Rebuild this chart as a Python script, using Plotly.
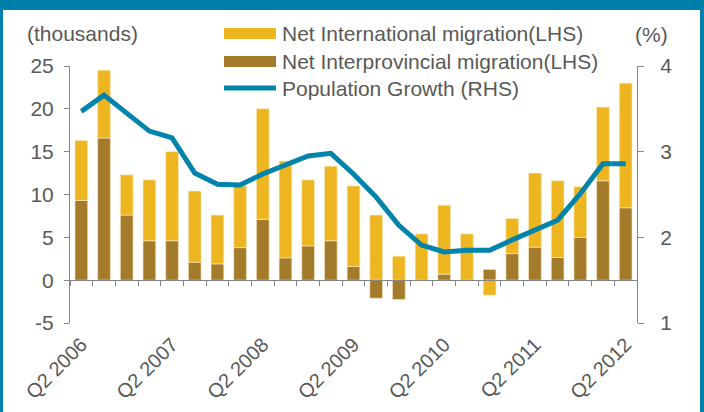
import plotly.graph_objects as go
import numpy as np

quarters = ["Q2 2006", "Q3 2006", "Q4 2006", "Q1 2007", "Q2 2007", "Q3 2007", "Q4 2007",
            "Q1 2008", "Q2 2008", "Q3 2008", "Q4 2008", "Q1 2009", "Q2 2009", "Q3 2009",
            "Q4 2009", "Q1 2010", "Q2 2010", "Q3 2010", "Q4 2010", "Q1 2011", "Q2 2011",
            "Q3 2011", "Q4 2011", "Q1 2012", "Q2 2012"]
interprovincial = [9.3, 16.6, 7.6, 4.6, 4.6, 2.1, 1.9, 3.8, 7.1, 2.6, 4.0, 4.6, 1.6, -2.1,
                   -2.25, 0.0, 0.7, 0.0, 1.25, 3.1, 3.85, 2.65, 5.0, 11.6, 8.45]
international = [7.0, 7.9, 4.7, 7.1, 10.4, 8.3, 5.7, 7.2, 12.9, 11.3, 7.7, 8.7, 9.4, 7.6,
                 2.8, 5.4, 8.05, 5.4, -1.75, 4.1, 8.65, 8.95, 5.9, 8.6, 14.55]
pop_growth = [3.47, 3.66, 3.45, 3.24, 3.16, 2.75, 2.62, 2.61, 2.74, 2.84, 2.95, 2.98, 2.74,
              2.47, 2.14, 1.91, 1.83, 1.85, 1.85, 1.97, 2.08, 2.20, 2.51, 2.86, 2.86]
label_quarters = ["Q2 2006", "Q2 2007", "Q2 2008", "Q2 2009", "Q2 2010", "Q2 2011", "Q2 2012"]
left_ticks = [-5, 0, 5, 10, 15, 20, 25]
left_ticktext = ["-5", "0", "5", "10", "15", "20", "25"]
right_ticks = [1, 2, 3, 4]
names = ["Net International migration(LHS)", "Net Interprovincial migration(LHS)",
         "Population Growth (RHS)"]

YELLOW = "#EDB51F"
BROWN = "#A47A2B"
BLUE = "#0084AC"
FRAME = "#0080AA"
TXT = "#595959"
AX = "#868686"
FONT = "Liberation Sans, Arial, sans-serif"
FS = 21

W, H = 704, 412
L, R, T, B = 70, 67, 66, 89
PW, PH = W - L - R, H - T - B


def px(x):
    return (x - L) / PW


def py(y):
    return (H - B - y) / PH


fig = go.Figure()
fig.add_trace(go.Bar(x=quarters, y=interprovincial, name=names[1], marker_color=BROWN,
                     marker_line=dict(color="rgba(245,230,190,0.8)", width=0.8),
                     showlegend=False))
fig.add_trace(go.Bar(x=quarters, y=international, name=names[0], marker_color=YELLOW,
                     marker_line=dict(color="rgba(250,235,190,0.8)", width=0.8),
                     showlegend=False))
fig.add_trace(go.Scatter(x=np.arange(len(quarters)), y=pop_growth, name=names[2],
                         mode="lines", line=dict(color=BLUE, width=5),
                         xaxis="x2", yaxis="y2", showlegend=False))

n = len(quarters)
fig.update_layout(
    width=W, height=H,
    margin=dict(l=L, r=R, t=T, b=B, autoexpand=False),
    paper_bgcolor="white", plot_bgcolor="white",
    barmode="relative", bargap=0.44,
    font=dict(family=FONT, size=FS, color=TXT),
    xaxis=dict(type="category", range=[-0.5, n - 0.5], showgrid=False, showline=False,
               ticks="", tickvals=label_quarters, ticktext=label_quarters,
               tickfont=dict(size=20), tickangle=-45, ticklabelstandoff=5,
               zeroline=False, automargin=False),
    xaxis2=dict(overlaying="x", anchor="free", position=5 / 30, range=[-0.5, n - 0.5],
                showgrid=False, zeroline=False, showline=True, linecolor=AX, linewidth=1,
                ticks="outside", ticklen=5, tickcolor=AX, automargin=False,
                tickvals=[k - 0.5 for k in range(n)], showticklabels=False),
    yaxis=dict(range=[-5, 25], tickvals=left_ticks, ticktext=left_ticktext,
               showgrid=False, zeroline=False, showline=True, automargin=False,
               linecolor=AX, linewidth=1, ticks="outside", ticklen=5, tickcolor=AX,
               ticklabelstandoff=6),
    yaxis2=dict(range=[1, 4], tickvals=right_ticks, overlaying="y", side="right",
                anchor="x2", automargin=False,
                showgrid=False, zeroline=False, showline=True, linecolor=AX, linewidth=1,
                ticks="outside", ticklen=6, tickcolor=AX, ticklabelstandoff=12),
)

shapes = []
# frame
shapes.append(dict(type="rect", xref="paper", yref="paper", x0=px(0), x1=px(W),
                   y0=py(10), y1=py(0), fillcolor=FRAME, line_width=0, layer="above"))
shapes.append(dict(type="rect", xref="paper", yref="paper", x0=px(0), x1=px(3),
                   y0=py(H), y1=py(0), fillcolor=FRAME, line_width=0, layer="above"))
shapes.append(dict(type="rect", xref="paper", yref="paper", x0=px(700), x1=px(W),
                   y0=py(H), y1=py(0), fillcolor=FRAME, line_width=0, layer="above"))
# legend swatches
shapes.append(dict(type="rect", xref="paper", yref="paper", x0=px(224), x1=px(276),
                   y0=py(39), y1=py(28), fillcolor=YELLOW, line_width=0))
shapes.append(dict(type="rect", xref="paper", yref="paper", x0=px(224), x1=px(276),
                   y0=py(67), y1=py(56), fillcolor=BROWN, line_width=0))
shapes.append(dict(type="line", xref="paper", yref="paper", x0=px(224), x1=px(276),
                   y0=py(88), y1=py(88), line=dict(color=BLUE, width=5)))
fig.update_layout(shapes=shapes)

ann = []
for txt, yy in zip(names, [33, 61, 88]):
    ann.append(dict(text=txt, xref="paper", yref="paper", x=px(280), y=py(yy),
                    xanchor="left", yanchor="middle", showarrow=False,
                    font=dict(size=FS, color=TXT, family=FONT)))
ann.append(dict(text="(thousands)", xref="paper", yref="paper", x=px(25), y=py(33),
                xanchor="left", yanchor="middle", showarrow=False,
                font=dict(size=FS, color=TXT, family=FONT)))
ann.append(dict(text="(%)", xref="paper", yref="paper", x=px(633), y=py(34),
                xanchor="left", yanchor="middle", showarrow=False,
                font=dict(size=FS, color=TXT, family=FONT)))
fig.update_layout(annotations=ann)

fig.write_html("out.html")
